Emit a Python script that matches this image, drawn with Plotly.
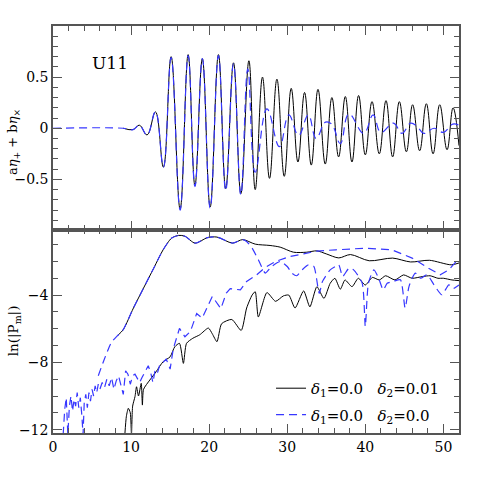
import plotly.graph_objects as go

# --- top panel: a*eta_+ + b*eta_x (extrema) ---
t_wave_k = [9.0, 10.26, 11.06, 12.05, 13.12, 14.14, 15.13, 16.28, 17.31, 18.18, 19.13, 20.13,
            21.19, 22.12, 23.12, 24.06, 25.09, 25.9, 26.83, 27.73, 28.68, 29.62, 30.51, 31.37,
            32.22, 33.08, 33.94, 34.87, 35.72, 36.58, 37.44, 38.29, 39.14, 40.0, 40.86, 41.79,
            42.65, 43.5, 44.36, 45.26, 46.06, 46.96, 47.82, 48.68, 49.53, 50.47, 51.24, 52.0]
v_wave_k = [0.0, -0.013, 0.03, -0.065, 0.16, -0.38, 0.70, -0.79, 0.72, -0.56, 0.68, -0.77,
            0.72, -0.59, 0.64, -0.64, 0.66, -0.60, 0.50, -0.49, 0.48, -0.47, 0.39, -0.33,
            0.35, -0.36, 0.38, -0.35, 0.30, -0.28, 0.31, -0.33, 0.32, -0.26, 0.26, -0.25,
            0.27, -0.28, 0.26, -0.23, 0.23, -0.22, 0.24, -0.25, 0.23, -0.21, 0.20, -0.17]

t_wave_b = [0.0, 9.0, 10.26, 11.06, 12.05, 13.12, 14.14, 15.13, 16.28, 17.31, 18.18, 19.13,
            20.13, 21.19, 22.12, 23.12, 24.06, 24.95, 25.9, 27.4, 29.0, 30.2, 31.45, 32.7,
            33.7, 34.9, 35.7, 36.8, 37.9, 39.8, 41.0, 42.0, 43.6, 44.7, 45.8, 46.6, 47.5,
            48.8, 50.0, 51.2, 52.0]
v_wave_b = [0.0, 0.0, -0.013, 0.03, -0.065, 0.16, -0.38, 0.69, -0.80, 0.71, -0.57, 0.68,
            -0.78, 0.71, -0.61, 0.63, -0.65, 0.58, -0.43, 0.19, -0.18, 0.13, -0.07, 0.13,
            -0.10, 0.06, 0.04, -0.15, 0.14, -0.05, 0.13, -0.04, 0.05, -0.05, 0.05, 0.02, -0.05,
            0.0, -0.04, 0.04, 0.03]

# --- bottom panel: ln(|P_m|) ---
# delta2 = 0.01, dominant mode
t_pa_k = [8.3, 9.0, 10.3, 11.6, 12.9, 14.1, 15.2, 16.1, 16.9, 18.2, 19.8, 21.0, 23.0, 24.3,
          25.9, 27.8, 29.1, 30.8, 32.5, 33.8, 35.0, 36.6, 38.1, 40.5, 43.5, 45.8, 48.2, 51.0, 52.0]
v_pa_k = [-6.40, -6.05, -4.77, -3.58, -2.40, -1.31, -0.61, -0.45, -0.50, -0.91, -0.58, -0.55,
          -0.91, -0.70, -0.97, -1.05, -1.15, -1.45, -1.45, -1.37, -1.55, -1.79, -1.59, -1.96,
          -1.80, -2.03, -1.93, -2.20, -2.09]
# delta2 = 0.01, second mode
t_pb_k = [9.2, 9.4, 9.65, 9.9, 10.05, 10.2, 10.5, 10.7, 10.95, 11.3, 11.45, 11.6, 12.4, 13.2,
          14.1, 15.0, 15.6, 16.2, 16.7, 17.1, 17.9, 18.8, 19.9, 20.4, 21.0, 21.6, 22.9, 24.1,
          24.8, 25.5, 25.9, 26.3, 27.4, 28.5, 29.5, 30.2, 31.0, 32.1, 32.9, 33.8, 34.7, 35.5,
          36.1, 36.8, 37.4, 38.3, 39.1, 40.0, 40.9, 41.8, 42.6, 43.8, 44.9, 46.0, 47.3, 48.3,
          49.3, 50.0, 51.1, 52.0]
v_pb_k = [-12.3, -11.2, -10.73, -11.0, -12.3, -10.6, -10.04, -9.45, -10.0, -9.25, -10.54, -9.6,
          -9.05, -8.56, -7.96, -7.67, -7.07, -6.87, -8.06, -6.87, -6.57, -6.36, -5.96, -6.3,
          -6.77, -5.70, -5.45, -6.1, -4.77, -4.0, -3.8, -5.3, -3.85, -4.37, -4.05, -4.0, -4.77,
          -3.75, -4.7, -3.5, -4.2, -3.3, -3.0, -3.65, -3.1, -3.5, -3.0, -3.4, -2.95, -3.1, -2.85,
          -3.1, -2.8, -3.0, -2.9, -2.85, -3.0, -3.0, -3.1, -3.14]

# delta2 = 0, dominant mode (drops after t~25)
t_pa_b = [5.8, 6.5, 7.5, 8.3, 9.0, 10.3, 11.6, 12.9, 14.1, 15.2, 16.1, 16.9, 18.2, 19.8, 21.0,
          23.0, 24.3, 24.8, 25.5, 26.3, 27.2, 28.0, 29.1, 30.0, 30.6, 31.2, 31.9, 32.7, 33.4,
          34.1, 34.5, 34.9, 35.5, 36.2, 36.6, 37.1, 37.9, 38.5, 39.6, 40.0, 40.4, 41.1, 41.7,
          42.3, 42.8, 43.6, 44.5, 45.1, 45.6, 46.4, 47.1, 47.9, 48.8, 49.8, 50.7, 51.3, 52.0]
v_pa_b = [-8.8, -7.9, -6.8, -6.4, -6.05, -4.77, -3.58, -2.40, -1.31, -0.61, -0.45, -0.50, -0.91,
          -0.58, -0.55, -0.91, -0.70, -0.81, -1.2, -1.9, -2.69, -2.3, -2.0, -2.3, -2.69, -2.85,
          -2.5, -2.2, -2.29, -3.9, -3.2, -2.89, -2.5, -2.29, -2.2, -2.89, -2.41, -2.5, -3.29,
          -5.86, -3.29, -2.5, -2.99, -3.69, -3.3, -3.19, -3.09, -4.77, -3.48, -2.69, -3.0,
          -2.79, -3.39, -3.98, -3.39, -3.6, -3.4]
# delta2 = 0, second mode (noisy start)
t_pb_b = [1.3, 1.5, 1.7, 1.9, 2.1, 2.3, 2.5, 2.7, 2.9, 3.1, 3.3, 3.5, 3.7, 3.85, 4.0, 4.2, 4.4,
          4.6, 4.8, 5.0, 5.2, 5.4, 5.6, 5.8, 6.0, 6.3, 6.6, 6.9, 7.2, 7.5, 7.8, 8.1, 8.4, 8.7,
          9.0, 9.3, 9.6, 9.9, 10.2, 10.5, 10.8, 11.1, 11.4, 11.7, 12.0, 12.2, 12.5, 12.8, 13.1,
          13.4, 13.7, 14.1, 14.5, 15.0, 15.4, 16.2, 16.9, 17.6, 18.4, 19.1, 20.4, 21.5, 22.2,
          22.7, 24.0, 24.8, 26.1, 27.2, 28.5, 30.4, 32.1, 33.8, 36.2, 40.0, 43.4, 46.0, 48.1,
          49.6, 50.7, 52.0]
v_pb_b = [-12.3, -10.8, -10.1, -12.3, -10.6, -10.0, -10.9, -10.2, -10.6, -9.8, -10.7, -10.1,
          -11.2, -12.3, -10.4, -9.9, -10.7, -9.8, -10.3, -9.6, -10.0, -9.4, -9.8, -9.3, -9.6,
          -9.2, -9.5, -9.0, -9.4, -8.9, -9.6, -9.1, -8.8, -9.3, -9.9, -8.5, -8.7, -9.3, -8.8,
          -8.7, -9.0, -9.2, -8.9, -8.6, -8.4, -8.2, -8.6, -9.2, -8.4, -8.6, -8.1, -8.0, -7.8,
          -8.4, -7.2, -5.98, -6.48, -6.16, -5.1, -5.37, -4.08, -4.8, -3.88, -3.62, -3.69, -3.19,
          -2.79, -2.35, -2.0, -1.70, -1.55, -1.38, -1.31, -1.21, -1.31, -1.8, -2.4, -2.79, -2.5,
          -1.8]

label_k = "<i>δ</i><sub>1</sub>=0.0&nbsp;&nbsp;&nbsp;<i>δ</i><sub>2</sub>=0.01"
label_b = "<i>δ</i><sub>1</sub>=0.0&nbsp;&nbsp;&nbsp;<i>δ</i><sub>2</sub>=0.0"

BLACK = "black"
BLUE = "rgb(55,55,255)"
DASH = "8px,5px"
FONT = "DejaVu Serif"

fig = go.Figure()

# top panel
fig.add_trace(go.Scatter(x=t_wave_k, y=v_wave_k, xaxis="x2", yaxis="y2", mode="lines",
                         line=dict(color=BLACK, width=1, shape="spline", smoothing=1.2),
                         showlegend=False))
fig.add_trace(go.Scatter(x=t_wave_b, y=v_wave_b, xaxis="x2", yaxis="y2", mode="lines",
                         line=dict(color=BLUE, width=1.2, dash=DASH, shape="spline", smoothing=1.2),
                         showlegend=False))

# bottom panel
fig.add_trace(go.Scatter(x=t_pa_k, y=v_pa_k, mode="lines", name=label_k, legendgroup="k",
                         line=dict(color=BLACK, width=1, shape="spline", smoothing=0.8)))
fig.add_trace(go.Scatter(x=t_pb_k, y=v_pb_k, mode="lines", legendgroup="k", showlegend=False,
                         line=dict(color=BLACK, width=1, shape="spline", smoothing=0.6)))
fig.add_trace(go.Scatter(x=t_pa_b, y=v_pa_b, mode="lines", name=label_b, legendgroup="b",
                         line=dict(color=BLUE, width=1.2, dash=DASH, shape="spline", smoothing=0.6)))
fig.add_trace(go.Scatter(x=t_pb_b, y=v_pb_b, mode="lines", legendgroup="b", showlegend=False,
                         line=dict(color=BLUE, width=1.2, dash=DASH)))

axis_style = dict(showline=True, linecolor="#555", linewidth=1.5, mirror="allticks",
                  ticks="inside", ticklen=9, tickcolor="#555", tickwidth=1,
                  showgrid=False, zeroline=False,
                  tickfont=dict(family=FONT, size=14, color="black"))

fig.update_layout(
    width=485, height=485,
    margin=dict(l=53, r=26, t=26, b=52),
    paper_bgcolor="white", plot_bgcolor="white",
    font=dict(family=FONT, size=15, color="black"),
    xaxis=dict(range=[0, 52], domain=[0, 1], anchor="y", tickvals=[0, 10, 20, 30, 40, 50],
               minor=dict(ticks="inside", dtick=2, ticklen=5, tickcolor="#555"), **axis_style),
    yaxis=dict(range=[-12.2, -0.1], domain=[0, 0.5], anchor="x", tickvals=[-12, -8, -4],
               minor=dict(ticks="inside", dtick=1, ticklen=5, tickcolor="#555"), **axis_style),
    xaxis2=dict(range=[0, 52], domain=[0, 1], anchor="y2", matches="x", showticklabels=False,
                tickvals=[0, 10, 20, 30, 40, 50],
                minor=dict(ticks="inside", dtick=2, ticklen=5, tickcolor="#555"), **axis_style),
    yaxis2=dict(range=[-0.99, 1.0], domain=[0.5, 1], anchor="x2", tickvals=[-0.5, 0, 0.5],
                ticktext=["−0.5", "0", "0.5"],
                minor=dict(ticks="inside", dtick=0.1, ticklen=5, tickcolor="#555"), **axis_style),
    legend=dict(x=0.537, y=0.15, xanchor="left", yanchor="top", bgcolor="rgba(0,0,0,0)",
                font=dict(family=FONT, size=15), tracegroupgap=4, itemwidth=30),
    annotations=[
        dict(text="U11", xref="paper", yref="paper", x=0.14, y=0.909,
             xanchor="center", yanchor="middle", showarrow=False,
             font=dict(family=FONT, size=17)),
        dict(text="a<i>η</i><sub>+</sub> + b<i>η</i><sub>×</sub>", xref="paper", yref="paper",
             x=-0.096, y=0.715, xanchor="center", yanchor="middle", textangle=-90,
             showarrow=False, font=dict(family=FONT, size=13)),
        dict(text="ln(|P<sub>m</sub>|)", xref="paper", yref="paper",
             x=-0.096, y=0.25, xanchor="center", yanchor="middle", textangle=-90,
             showarrow=False, font=dict(family=FONT, size=13.5)),
    ],
)

# drop the default page margin so the 485px figure fills the window exactly
fig.write_html("out.html", config={"displayModeBar": False},
               post_script="document.body.style.margin='0';")
